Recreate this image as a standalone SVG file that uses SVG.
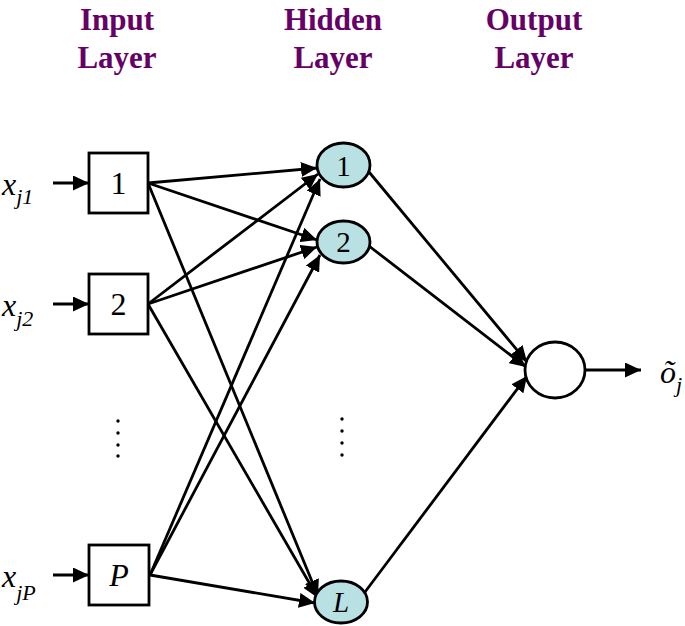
<svg xmlns="http://www.w3.org/2000/svg" width="685" height="626" viewBox="0 0 685 626">
<defs>
<marker id="ah" markerUnits="userSpaceOnUse" markerWidth="17" markerHeight="15" refX="16" refY="7.5" orient="auto">
<path d="M0,0 L16,7.5 L0,15 z" fill="#000"/>
</marker>
<style>
.hdr{font-family:"Liberation Serif",serif;font-weight:bold;font-size:31px;fill:#660066;text-anchor:middle}
.box{fill:#fff;stroke:#000;stroke-width:2.8}
.hid{fill:#b9e0e3;stroke:#000;stroke-width:2.8}
.out{fill:#fff;stroke:#000;stroke-width:2.8}
.num{font-family:"Liberation Serif",serif;font-size:32px;text-anchor:middle;fill:#000}
.hn{font-size:29px}
.it{font-style:italic}
.lab{font-family:"Liberation Serif",serif;font-style:italic;font-size:32px;fill:#000}
.sub{font-size:22px}
.con line{stroke:#000;stroke-width:2.8;marker-end:url(#ah)}
.dot{fill:#000}
</style>
</defs>
<rect width="685" height="626" fill="#fff"/>
<g id="headers">
<text class="hdr" x="117" y="30">Input</text>
<text class="hdr" x="117" y="68">Layer</text>
<text class="hdr" x="333" y="30">Hidden</text>
<text class="hdr" x="333" y="68">Layer</text>
<text class="hdr" x="534" y="30">Output</text>
<text class="hdr" x="534" y="68">Layer</text>
</g>
<g id="connectors" class="con">
<line x1="53" y1="183" x2="89" y2="183"/>
<line x1="53" y1="304" x2="89" y2="304"/>
<line x1="53" y1="575" x2="89" y2="575"/>
<line x1="148" y1="183" x2="317" y2="168"/>
<line x1="148" y1="183" x2="317" y2="240"/>
<line x1="148" y1="183" x2="318" y2="596"/>
<line x1="148" y1="304" x2="318" y2="174"/>
<line x1="148" y1="304" x2="317" y2="247"/>
<line x1="148" y1="304" x2="318" y2="598"/>
<line x1="150" y1="575" x2="320" y2="179"/>
<line x1="150" y1="575" x2="320" y2="255"/>
<line x1="150" y1="575" x2="315" y2="603"/>
<line x1="369" y1="172" x2="527" y2="362"/>
<line x1="369" y1="246" x2="526" y2="367"/>
<line x1="365" y1="592" x2="527" y2="376"/>
<line x1="585" y1="370" x2="641" y2="370"/>
</g>
<g id="in1">
<rect class="box" x="89" y="153" width="59" height="60"/>
<text class="num" x="118.5" y="194">1</text>
<text class="lab" x="2" y="195">x<tspan class="sub" dy="9">j1</tspan></text>
</g>
<g id="in2">
<rect class="box" x="89" y="274" width="59" height="60"/>
<text class="num" x="118.5" y="315">2</text>
<text class="lab" x="2" y="316">x<tspan class="sub" dy="10">j2</tspan></text>
</g>
<g id="inP">
<rect class="box" x="89" y="545" width="60" height="60"/>
<text class="num it" x="119" y="586">P</text>
<text class="lab" x="2" y="587">x<tspan class="sub" dy="13">jP</tspan></text>
</g>
<g id="indots">
<circle class="dot" cx="118" cy="421" r="1.7"/>
<circle class="dot" cx="118" cy="433" r="1.7"/>
<circle class="dot" cx="118" cy="445" r="1.7"/>
<circle class="dot" cx="118" cy="456" r="1.7"/>
</g>
<g id="h1">
<ellipse class="hid" cx="343.5" cy="165" rx="26.5" ry="22"/>
<text class="num hn" x="343.5" y="176">1</text>
</g>
<g id="h2">
<ellipse class="hid" cx="343.5" cy="242" rx="26.5" ry="21"/>
<text class="num hn" x="343.5" y="252">2</text>
</g>
<g id="hL">
<ellipse class="hid" cx="341" cy="602" rx="26.5" ry="21"/>
<text class="num hn it" x="341" y="612">L</text>
</g>
<g id="hdots">
<circle class="dot" cx="342" cy="419" r="1.7"/>
<circle class="dot" cx="342" cy="431" r="1.7"/>
<circle class="dot" cx="342" cy="443" r="1.7"/>
<circle class="dot" cx="342" cy="455" r="1.7"/>
</g>
<g id="out">
<ellipse class="out" cx="555" cy="370" rx="30" ry="28"/>
</g>
<g id="outlabel">
<text class="lab" x="660" y="383" font-size="34">õ<tspan class="sub" dy="9">j</tspan></text>
</g>
</svg>
